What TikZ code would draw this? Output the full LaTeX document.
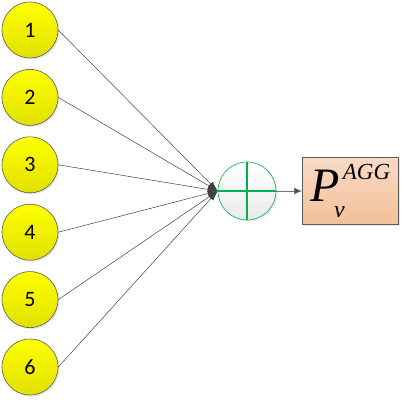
\documentclass[tikz,border=0pt]{standalone}
\usepackage{fontspec}
\newfontfamily\numfont{Carlito}
\newfontfamily\aggfont{Liberation Serif}
\usetikzlibrary{shadows,arrows.meta}
\tikzset{>=Latex}
\definecolor{sumgreen}{RGB}{0,176,80}
\definecolor{peachtop}{RGB}{249,218,196}
\definecolor{peachbot}{RGB}{243,192,154}
\definecolor{rimgray}{RGB}{89,89,89}

\begin{document}
\begin{tikzpicture}[x=1pt,y=1pt,
    inpt/.style={circle, draw=rimgray, line width=0.6pt, top color=yellow, bottom color=yellow!88!black,
      minimum size=56pt, inner sep=0pt, font=\numfont\fontsize{22}{22}\selectfont,
      drop shadow={shadow xshift=1.5pt, shadow yshift=-1.5pt, opacity=0.2}},
    sumnode/.style={circle, draw=sumgreen, line width=0.6pt, top color=white, bottom color=black!8,
      minimum size=58pt, inner sep=0pt,
      drop shadow={shadow xshift=1.5pt, shadow yshift=-1.5pt, opacity=0.15}},
    aggbox/.style={rectangle, draw=rimgray, line width=0.6pt, top color=peachtop, bottom color=peachbot,
      minimum width=96pt, minimum height=67pt, inner sep=0pt,
      drop shadow={shadow xshift=1.5pt, shadow yshift=-1.5pt, opacity=0.2}},
    link/.style={draw=black!75, line width=0.5pt, -{Latex[length=10pt,width=6pt]}}]
        \useasboundingbox (0, 0) rectangle (403, 400);
        % inputs
        \foreach \i in {1,...,6}
            \node[inpt] (in\i) at (30, {400 - 30 - 67.4*(\i-1)}) {\i};
        % sum and output
        \node[sumnode] (sum) at (247, 209) {};
        \draw[sumgreen, line width=1.5pt] (sum.north) -- (sum.south);
        \draw[sumgreen, line width=1.5pt] (sum.west) -- (sum.east);
        \node[aggbox] (agg) at (350.5, 209)
            {\aggfont\itshape\fontsize{48}{48}\selectfont P\kern-6pt\raisebox{-16pt}{\fontsize{24}{24}\selectfont v}\kern-2pt\raisebox{22pt}{\fontsize{23}{23}\selectfont AGG}};
        \foreach \i in {1,...,6}
            \draw[link] (in\i.east) -- (sum.west);
        \draw[black!55, line width=0.8pt, -{Latex[length=8pt,width=7pt,fill=black!75]}] (sum.east) -- (agg.west);
      \end{tikzpicture}
\end{document}
